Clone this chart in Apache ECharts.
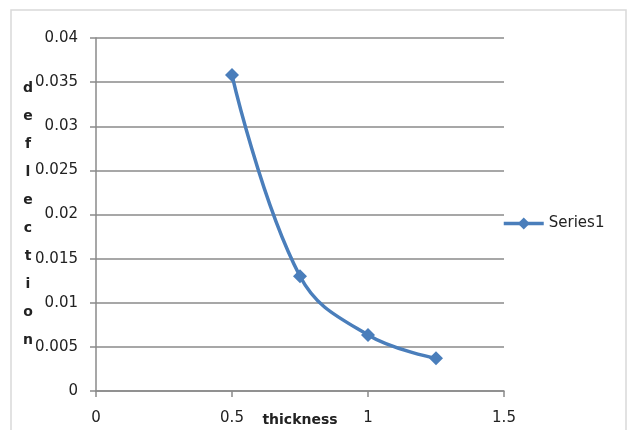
<!DOCTYPE html>
<html><head><meta charset="utf-8">
<script src="https://cdn.jsdelivr.net/npm/echarts@6/dist/echarts.min.js"></script>
<style>html,body{margin:0;padding:0;background:#fff}#c{width:627px;height:430px}</style>
</head><body><div id="c"></div>
<script>
const thickness = [0.5, 0.75, 1.0, 1.25];
const deflection = [0.0358, 0.0130, 0.00635, 0.0037];
const seriesName = 'Series1';
const xTitle = 'thickness';
const yTitle = 'deflection';

const chart = echarts.init(document.getElementById('c'));
const txt = '#222';
const grey = '#8a8a8a';
chart.setOption({
  animation: false,
  textStyle: { fontFamily: 'DejaVu Sans' },
  graphic: [{ type: 'rect', shape: { x: 11, y: 10, width: 615, height: 440 }, style: { fill: 'none', stroke: '#d9d9d9', lineWidth: 1.5 }, silent: true }],
  grid: { left: 96, right: 123, top: 38, bottom: 39, containLabel: false, outerBoundsMode: 'none' },
  legend: {
    data: [seriesName], left: 502, top: 216, padding: 0, itemWidth: 40, itemHeight: 15, itemGap: 2,
    lineStyle: { width: 3.5 },
    textStyle: { fontFamily: 'DejaVu Sans', fontSize: 15, color: txt }
  },
  xAxis: {
    type: 'value', min: 0, max: 1.5, interval: 0.5,
    name: xTitle, nameLocation: 'middle', nameGap: 22, nameMoveOverlap: false,
    nameTextStyle: { fontFamily: 'DejaVu Sans', fontWeight: 'bold', fontSize: 14, color: txt },
    axisLine: { show: true, lineStyle: { color: grey, width: 1.5 } },
    axisTick: { show: true, length: 6, lineStyle: { color: grey, width: 1.5 } },
    axisLabel: { fontFamily: 'DejaVu Sans', fontSize: 15, color: txt, margin: 20 },
    splitLine: { show: false }
  },
  yAxis: {
    type: 'value', min: 0, max: 0.04, interval: 0.005,
    name: yTitle.split('').join('\n'), nameLocation: 'middle', nameGap: 68, nameRotate: 0, nameMoveOverlap: false,
    nameTextStyle: { fontFamily: 'DejaVu Sans', fontWeight: 'bold', fontSize: 14, color: txt, lineHeight: 28, align: 'center' },
    axisLine: { show: true, lineStyle: { color: grey, width: 1.5 } },
    axisTick: { show: true, length: 6, lineStyle: { color: grey, width: 1.5 } },
    axisLabel: { fontFamily: 'DejaVu Sans', fontSize: 15, color: txt, margin: 18 },
    splitLine: { show: true, lineStyle: { color: grey, width: 1.5 } }
  },
  series: [{
    name: seriesName, type: 'line', smooth: 0.4,
    data: thickness.map((x, i) => [x, deflection[i]]),
    symbol: 'diamond', symbolSize: 14,
    lineStyle: { color: '#4a7ebb', width: 3.5 },
    itemStyle: { color: '#4a7ebb' }
  }]
});
</script></body></html>
